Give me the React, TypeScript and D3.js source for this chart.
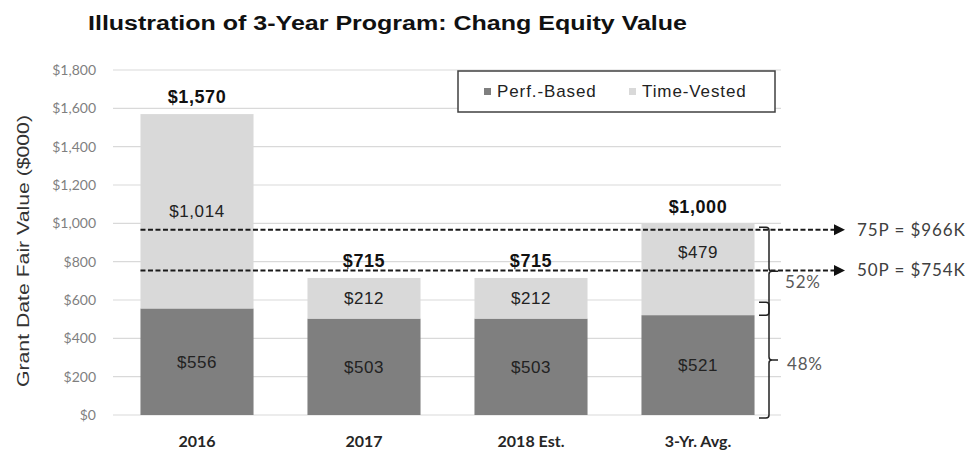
import React from "react";
import * as d3 from "d3";

const categories = ["2016", "2017", "2018 Est.", "3-Yr. Avg."];
const perfBased = [556, 503, 503, 521];
const timeVested = [1014, 212, 212, 479];
const totals = [1570, 715, 715, 1000];
const yTicks = [0, 200, 400, 600, 800, 1000, 1200, 1400, 1600, 1800];
const benchmarks = [
  { label: "75P = $966K", value: 966 },
  { label: "50P = $754K", value: 754 },
];
const shares = [
  { label: "52%", from: 521, to: 1000 },
  { label: "48%", from: 0, to: 521 },
];
const seriesNames = ["Perf.-Based", "Time-Vested"];

const W = 973;
const H = 455;
const DARK = "#7f7f7f";
const LIGHT = "#d9d9d9";
const ARIAL = "'Liberation Sans', Arial, sans-serif";
const CAL = "Lato, 'Open Sans', sans-serif";

export default function App() {
  const x = d3
    .scaleBand<string>()
    .domain(categories)
    .range([113.5, 781.5])
    .paddingInner(0.323)
    .paddingOuter(0.1615);
  const y = d3.scaleLinear().domain([0, 1800]).range([415, 70]);
  const bw = x.bandwidth();
  const fmt = d3.format("$,");
  const dashStart = x(categories[0])!;
  const arrowTip = 845;
  const brX = 769;

  const labelOffset = (i: number) => (i === 3 ? -17 : 0);

  const bracePath = (top: number, bot: number) => {
    const mid = (top + bot) / 2;
    const r = 3;
    return [
      `M${brX - 10},${top} L${brX - r},${top} Q${brX},${top} ${brX},${top + r}`,
      `L${brX},${mid - r} Q${brX},${mid} ${brX + r},${mid} L${brX + 9},${mid}`,
      `M${brX + r},${mid} Q${brX},${mid} ${brX},${mid + r}`,
      `L${brX},${bot - r} Q${brX},${bot} ${brX - r},${bot} L${brX - 10},${bot}`,
    ].join(" ");
  };

  return (
    <svg
      width={W}
      height={H}
      style={{ position: "absolute", left: 0, top: 0, background: "#fff" }}
    >
      <text
        x={88}
        y={30}
        fontFamily={ARIAL}
        fontWeight="bold"
        fontSize={20}
        fill="#111"
        textLength={599}
        lengthAdjust="spacingAndGlyphs"
      >
        Illustration of 3-Year Program: Chang Equity Value
      </text>

      {yTicks.map((t) => (
        <line
          key={t}
          x1={113}
          x2={781}
          y1={y(t)}
          y2={y(t)}
          stroke={LIGHT}
          strokeWidth={1.2}
        />
      ))}
      {yTicks.map((t) => (
        <text
          key={"l" + t}
          x={96}
          y={y(t)}
          dy="0.35em"
          textAnchor="end"
          fontFamily={CAL}
          fontSize={14}
          fill="#7f7f7f"
        >
          {fmt(t)}
        </text>
      ))}
      <text
        transform={`translate(29,251) rotate(-90)`}
        textAnchor="middle"
        fontFamily={ARIAL}
        fontSize={17}
        fill="#333"
        textLength={272}
        lengthAdjust="spacingAndGlyphs"
      >
        Grant Date Fair Value ($000)
      </text>

      {categories.map((c, i) => (
        <g key={c}>
          <rect
            x={x(c)}
            width={bw}
            y={y(perfBased[i])}
            height={y(0) - y(perfBased[i])}
            fill={DARK}
          />
          <rect
            x={x(c)}
            width={bw}
            y={y(perfBased[i] + timeVested[i])}
            height={y(perfBased[i]) - y(perfBased[i] + timeVested[i])}
            fill={LIGHT}
          />
          <text
            x={x(c)! + bw / 2}
            y={(y(0) + y(perfBased[i])) / 2}
            dy="0.35em"
            textAnchor="middle"
            fontFamily={ARIAL}
            fontSize={17}
            letterSpacing={0.6}
            fill="#222"
          >
            {fmt(perfBased[i])}
          </text>
          <text
            x={x(c)! + bw / 2}
            y={
              (y(perfBased[i]) + y(perfBased[i] + timeVested[i])) / 2 +
              labelOffset(i)
            }
            dy="0.35em"
            textAnchor="middle"
            fontFamily={ARIAL}
            fontSize={17}
            letterSpacing={0.6}
            fill="#222"
          >
            {fmt(timeVested[i])}
          </text>
          <text
            x={x(c)! + bw / 2}
            y={y(totals[i]) - 17}
            dy="0.35em"
            textAnchor="middle"
            fontFamily={ARIAL}
            fontWeight="bold"
            fontSize={18}
            letterSpacing={0.6}
            fill="#111"
          >
            {fmt(totals[i])}
          </text>
          <text
            x={x(c)! + bw / 2}
            y={441}
            dy="0.35em"
            textAnchor="middle"
            fontFamily={CAL}
            fontWeight="bold"
            fontSize={16}
            fill="#262626"
          >
            {c}
          </text>
        </g>
      ))}

      {benchmarks.map((b) => (
        <g key={b.label}>
          <line
            x1={dashStart}
            x2={arrowTip - 10}
            y1={y(b.value)}
            y2={y(b.value)}
            stroke="#1a1a1a"
            strokeWidth={2}
            strokeDasharray="5,2.5"
          />
          <path
            d={`M${arrowTip},${y(b.value)} L${arrowTip - 11},${y(b.value) - 5.5} L${arrowTip - 11},${y(b.value) + 5.5} Z`}
            fill="#111"
          />
          <text
            x={857}
            y={y(b.value)}
            dy="0.35em"
            fontFamily={CAL}
            fontSize={17}
            letterSpacing={0.9}
            fill="#404040"
          >
            {b.label}
          </text>
        </g>
      ))}

      {shares.map((s, i) => {
        const top = i === 0 ? y(s.to) + 4 : y(s.to) - 13;
        const bot = i === 0 ? y(s.from) : y(s.from) + 3;
        const mid = (top + bot) / 2;
        return (
          <g key={s.label}>
            <path d={bracePath(top, bot)} fill="none" stroke="#222" strokeWidth={1.5} />
            <text
              x={i === 0 ? 785 : 787}
              y={i === 0 ? mid + 11 : mid + 4}
              dy="0.35em"
              fontFamily={CAL}
              fontSize={17}
              letterSpacing={0.8}
              fill="#595959"
            >
              {s.label}
            </text>
          </g>
        );
      })}

      <rect
        x={458}
        y={71}
        width={317}
        height={41}
        fill="#fff"
        stroke="#404040"
        strokeWidth={1.5}
      />
      {seriesNames.map((n, i) => {
        const lx = i === 0 ? 484 : 629;
        return (
          <g key={n}>
            <rect x={lx} y={88} width={7} height={7} fill={i === 0 ? DARK : LIGHT} />
            <text
              x={lx + 13}
              y={91.5}
              dy="0.35em"
              fontFamily={ARIAL}
              fontSize={17}
              letterSpacing={0.9}
              fill="#222"
            >
              {n}
            </text>
          </g>
        );
      })}
    </svg>
  );
}
